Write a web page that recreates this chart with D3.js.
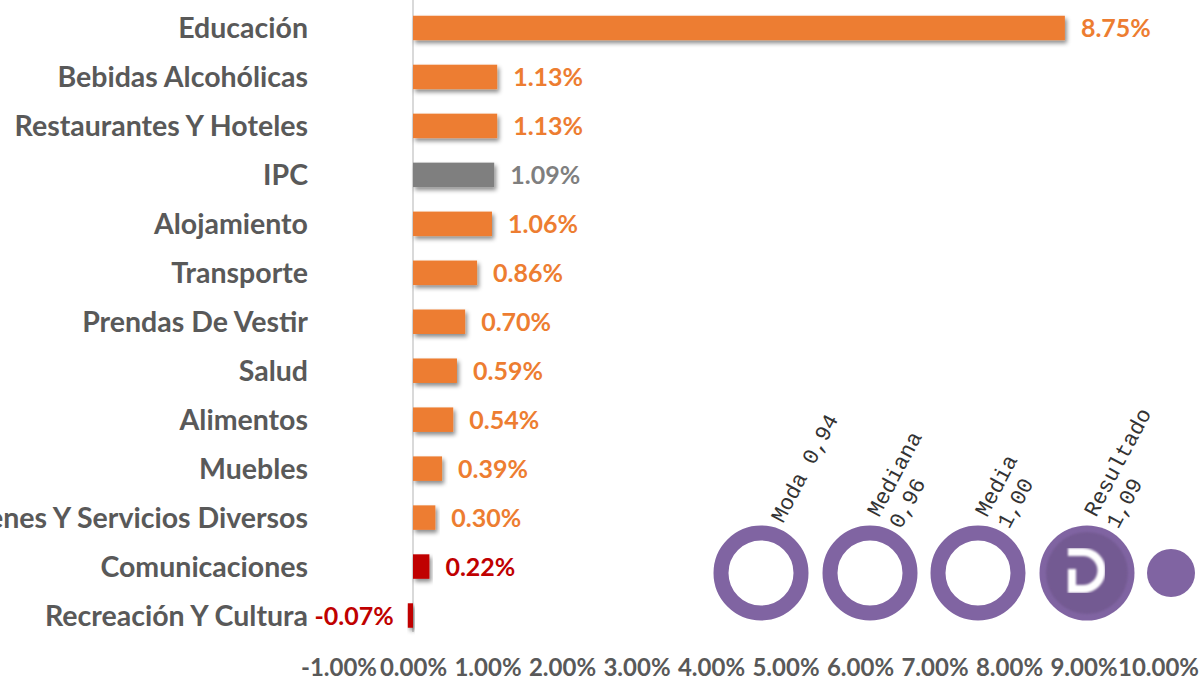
<!DOCTYPE html>
<html><head><meta charset="utf-8">
<script src="https://cdn.jsdelivr.net/npm/d3@7"></script>
<style>body{margin:0;background:#fff}svg{display:block}</style>
</head><body>
<script>
const categories = ["Educación","Bebidas Alcohólicas","Restaurantes Y Hoteles","IPC","Alojamiento","Transporte","Prendas De Vestir","Salud","Alimentos","Muebles","Bienes Y Servicios Diversos","Comunicaciones","Recreación Y Cultura"];
const values = [8.75,1.13,1.13,1.09,1.06,0.86,0.70,0.59,0.54,0.39,0.30,0.22,-0.07];
const barKinds = ["orange","orange","orange","gray","orange","orange","orange","orange","orange","orange","orange","red","red"];
const ticks = [-1,0,1,2,3,4,5,6,7,8,9,10];
const stats = [{name:"Moda",value:"0,94"},{name:"Mediana",value:"0,96"},{name:"Media",value:"1,00"},{name:"Resultado",value:"1,09"}];

const W=1203,H=685;
const colors={orange:"#ED7D31",gray:"#7F7F7F",red:"#C00000"};
const pct=v=>d3.format(".2f")(v).replace("\u2212","-")+"%";
const svg=d3.select("body").append("svg").attr("width",W).attr("height",H);
const defs=svg.append("defs");
const f=defs.append("filter").attr("id","sh").attr("x","-10%").attr("y","-30%").attr("width","130%").attr("height","180%");
f.append("feDropShadow").attr("dx",2).attr("dy",3).attr("stdDeviation",2).attr("flood-color","#000").attr("flood-opacity",0.45);
const bl=defs.append("filter").attr("id","bl");
bl.append("feGaussianBlur").attr("stdDeviation",1);

const x=d3.scaleLinear().domain([-1,10]).range([338.5,1158]);
const y=d3.scaleBand().domain(categories).range([3.5,640]).paddingInner(0.5).paddingOuter(0.25);

svg.append("line").attr("x1",x(0)).attr("x2",x(0)).attr("y1",0).attr("y2",632).attr("stroke","#D9D9D9").attr("stroke-width",2);

const rows=categories.map((c,i)=>({c,v:values[i],k:barKinds[i]}));
svg.append("g").selectAll("rect").data(rows).join("rect")
  .attr("x",d=>x(Math.min(0,d.v))).attr("width",d=>Math.max(3,Math.abs(x(d.v)-x(0))))
  .attr("y",d=>y(d.c)).attr("height",y.bandwidth())
  .attr("fill",d=>colors[d.k]).attr("filter","url(#sh)");

const font="Lato, 'Open Sans', sans-serif";
svg.append("g").selectAll("text").data(rows).join("text")
  .attr("x",308).attr("y",d=>y(d.c)+y.bandwidth()/2).attr("dy","0.36em")
  .attr("text-anchor","end").attr("font-family",font).attr("font-weight","bold")
  .attr("font-size",28.5).attr("fill","#595959").text(d=>d.c);

svg.append("g").selectAll("text").data(rows).join("text")
  .attr("x",d=>d.v<0?x(d.v)-14:x(d.v)+16).attr("y",d=>y(d.c)+y.bandwidth()/2).attr("dy","0.36em")
  .attr("text-anchor",d=>d.v<0?"end":"start").attr("font-family",font).attr("font-weight","bold")
  .attr("font-size",25).attr("fill",d=>colors[d.k]).text(d=>pct(d.v));

const ax=d3.axisBottom(x).tickValues(ticks).tickSize(0).tickFormat(pct);
const g=svg.append("g").attr("transform","translate(0,656)").call(ax);
g.select(".domain").remove();
g.selectAll("text").attr("font-family",font).attr("font-weight","bold").attr("font-size",24).attr("fill","#595959");

const cy=573, cxs=[761,870,978,1087];
const lg=svg.append("g");
cxs.forEach((cx,i)=>{
  if(i<3){
    lg.append("circle").attr("cx",cx).attr("cy",cy).attr("r",40).attr("fill","none").attr("stroke","#8064A2").attr("stroke-width",15);
  } else {
    lg.append("circle").attr("cx",cx).attr("cy",cy).attr("r",47.5).attr("fill","#8064A2");
    lg.append("circle").attr("cx",cx).attr("cy",cy).attr("r",41).attr("fill","#735A92").attr("filter","url(#bl)");
    lg.append("path").attr("d",`M${cx-19},${cy-21} L${cx-4},${cy-21} A18,18 0 0 1 ${cx-4},${cy+16} L${cx-15},${cy+16} L${cx-15},${cy-4}`)
      .attr("fill","none").attr("stroke","#fff").attr("stroke-width",8).attr("filter","url(#bl)");
  }
});
lg.append("circle").attr("cx",1171).attr("cy",cy).attr("r",24).attr("fill","#8064A2");

stats.forEach((s,i)=>{
  const cx=cxs[i];
  const t=lg.append("text").attr("font-family","'Liberation Mono', 'Courier New', monospace").attr("font-size",22).attr("fill","#333");
  if(i===0){
    t.attr("transform",`translate(${cx+22},${cy-49}) rotate(-62)`).text(s.name+" "+s.value);
  } else {
    t.attr("transform",`translate(${cx+9},${cy-55}) rotate(-62)`);
    t.append("tspan").attr("x",0).attr("y",0).text(s.name);
    t.append("tspan").attr("x",0).attr("y",25).text(s.value);
  }
});
</script>
</body></html>
